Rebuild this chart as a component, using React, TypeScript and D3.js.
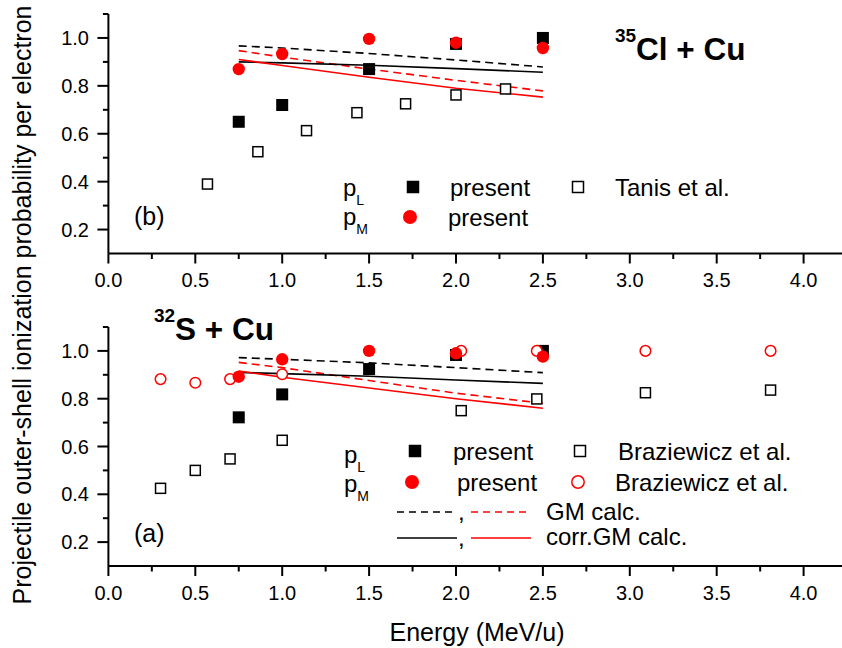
import React from "react";
import * as d3 from "d3";

// ---------- Data ----------
// Top panel (b): 35Cl + Cu
const clPresentE = [0.75, 1.0, 1.5, 2.0, 2.5];
const clPLPresent = [0.65, 0.72, 0.87, 0.975, 1.0];
const clPMPresent = [0.87, 0.933, 0.996, 0.98, 0.958];
const tanisE = [0.57, 0.86, 1.14, 1.43, 1.71, 2.0, 2.285];
const tanisPL = [0.39, 0.525, 0.613, 0.688, 0.725, 0.762, 0.787];
const calcE = [0.75, 1.0, 1.5, 2.0, 2.5];
const clGmPL = [0.967, 0.958, 0.935, 0.908, 0.879];
const clGmPM = [0.947, 0.92, 0.87, 0.823, 0.779];
const clCorrPL = [0.9, 0.896, 0.886, 0.872, 0.857];
const clCorrPM = [0.91, 0.885, 0.836, 0.79, 0.753];

// Bottom panel (a): 32S + Cu
const sPresentE = [0.75, 1.0, 1.5, 2.0, 2.5];
const sPLPresent = [0.722, 0.818, 0.924, 0.983, 1.0];
const sPMPresent = [0.892, 0.965, 1.0, 0.99, 0.976];
const brazE = [0.3, 0.5, 0.7, 1.0, 2.03, 2.465, 3.09, 3.81];
const brazPL = [0.425, 0.5, 0.548, 0.626, 0.75, 0.799, 0.825, 0.836];
const brazPM = [0.882, 0.867, 0.882, 0.902, 1.0, 1.0, 1.0, 1.0];
const sGmPL = [0.972, 0.965, 0.95, 0.93, 0.909];
const sGmPM = [0.952, 0.93, 0.876, 0.823, 0.781];
const sCorrPL = [0.91, 0.905, 0.894, 0.878, 0.864];
const sCorrPM = [0.916, 0.89, 0.845, 0.8, 0.76];

const xMajorTicks = [0, 0.5, 1.0, 1.5, 2.0, 2.5, 3.0, 3.5, 4.0];
const xMinorTicks = [0.25, 0.75, 1.25, 1.75, 2.25, 2.75, 3.25, 3.75];
const yMajorTicks = [0.2, 0.4, 0.6, 0.8, 1.0];
const yMinorTicks = [0.3, 0.5, 0.7, 0.9, 1.1];

const FONT = "'Liberation Sans', Arial, Helvetica, sans-serif";
const RED = "#ff0000";

const X0 = 108.4;
const xScale = d3.scaleLinear().domain([0, 4.22]).range([X0, X0 + 4.22 * 173.8]);

type Panel = {
  yScale: d3.ScaleLinear<number, number>;
  top: number;
  bottom: number;
};

function Axes({ p }: { p: Panel }) {
  const y = p.yScale;
  return (
    <g>
      <line x1={X0} x2={842} y1={p.bottom} y2={p.bottom} stroke="#000" strokeWidth={2} />
      <line x1={X0} x2={X0} y1={p.top} y2={p.bottom} stroke="#000" strokeWidth={2} />
      {xMajorTicks.map((t) => (
        <g key={"xM" + t}>
          <line x1={xScale(t)} x2={xScale(t)} y1={p.bottom} y2={p.bottom + 10} stroke="#000" strokeWidth={2} />
          <text x={xScale(t)} y={p.bottom + 33.5} textAnchor="middle" fontSize={20} fontFamily={FONT}>
            {t.toFixed(1)}
          </text>
        </g>
      ))}
      {xMinorTicks.map((t) => (
        <line key={"xm" + t} x1={xScale(t)} x2={xScale(t)} y1={p.bottom} y2={p.bottom + 5.5} stroke="#000" strokeWidth={2} />
      ))}
      {yMajorTicks.map((t) => (
        <g key={"yM" + t}>
          <line x1={X0 - 11} x2={X0} y1={y(t)} y2={y(t)} stroke="#000" strokeWidth={2} />
          <text x={89} y={y(t) + 7} textAnchor="end" fontSize={20} fontFamily={FONT}>
            {t.toFixed(1)}
          </text>
        </g>
      ))}
      {yMinorTicks.map((t) => (
        <line key={"ym" + t} x1={X0 - 5.5} x2={X0} y1={y(t)} y2={y(t)} stroke="#000" strokeWidth={2} />
      ))}
    </g>
  );
}

function CalcLines({ p, gmPL, gmPM, corrPL, corrPM }: { p: Panel; gmPL: number[]; gmPM: number[]; corrPL: number[]; corrPM: number[] }) {
  const line = d3
    .line<number>()
    .x((_, i) => xScale(calcE[i]))
    .y((v) => p.yScale(v));
  return (
    <g fill="none" strokeWidth={1.6}>
      <path d={line(gmPL) || ""} stroke="#000" strokeDasharray="8,5" />
      <path d={line(gmPM) || ""} stroke={RED} strokeDasharray="8,5" />
      <path d={line(corrPL) || ""} stroke="#000" />
      <path d={line(corrPM) || ""} stroke={RED} />
    </g>
  );
}

function FilledSquare({ x, y, s = 12 }: { x: number; y: number; s?: number }) {
  return <rect x={x - s / 2} y={y - s / 2} width={s} height={s} fill="#000" />;
}
function OpenSquare({ x, y, s = 10 }: { x: number; y: number; s?: number }) {
  return <rect x={x - s / 2} y={y - s / 2} width={s} height={s} fill="#fff" stroke="#000" strokeWidth={1.5} />;
}
function FilledCircle({ x, y, r = 6.2 }: { x: number; y: number; r?: number }) {
  return <circle cx={x} cy={y} r={r} fill={RED} />;
}
function OpenCircle({ x, y, r = 5.3 }: { x: number; y: number; r?: number }) {
  return <circle cx={x} cy={y} r={r} fill="#fff" stroke={RED} strokeWidth={1.5} />;
}

function PLabel({ x, y, sub }: { x: number; y: number; sub: string }) {
  return (
    <text x={x} y={y} fontSize={24} fontFamily={FONT}>
      p
      <tspan fontSize={14} dy={9}>
        {sub}
      </tspan>
    </text>
  );
}

export default function App() {
  const topP: Panel = {
    yScale: d3.scaleLinear().domain([0.1, 1.1]).range([253.5, 14]),
    top: 14,
    bottom: 253.5,
  };
  const botP: Panel = {
    yScale: d3.scaleLinear().domain([0.1, 1.1]).range([566, 327]),
    top: 327,
    bottom: 566,
  };

  const yt = topP.yScale;
  const yb = botP.yScale;

  return (
    <svg width={842} height={648} style={{ position: "absolute", left: 0, top: 0, background: "#fff" }}>
      <rect width={842} height={648} fill="#fff" />

      {/* ---------- Top panel ---------- */}
      <Axes p={topP} />
      <CalcLines p={topP} gmPL={clGmPL} gmPM={clGmPM} corrPL={clCorrPL} corrPM={clCorrPM} />
      {tanisE.map((e, i) => (
        <OpenSquare key={"tn" + i} x={xScale(e)} y={yt(tanisPL[i])} />
      ))}
      {clPresentE.map((e, i) => (
        <FilledSquare key={"cpl" + i} x={xScale(e)} y={yt(clPLPresent[i])} />
      ))}
      {clPresentE.map((e, i) => (
        <FilledCircle key={"cpm" + i} x={xScale(e)} y={yt(clPMPresent[i])} />
      ))}

      <text x={615} y={42} fontSize={19} fontWeight="bold" fontFamily={FONT}>35</text>
      <text x={636} y={60} fontSize={31.5} fontWeight="bold" fontFamily={FONT}>Cl + Cu</text>
      <text x={134} y={225} fontSize={25} fontFamily={FONT}>(b)</text>

      <PLabel x={343} y={196} sub="L" />
      <PLabel x={343} y={225} sub="M" />
      <FilledSquare x={413} y={187} s={12.5} />
      <text x={450} y={196} fontSize={24} fontFamily={FONT}>present</text>
      <OpenSquare x={578} y={187} s={11} />
      <text x={615} y={196} fontSize={24} fontFamily={FONT}>Tanis et al.</text>
      <FilledCircle x={410} y={217} r={7} />
      <text x={448} y={226} fontSize={24} fontFamily={FONT}>present</text>

      {/* ---------- Bottom panel ---------- */}
      <Axes p={botP} />
      <CalcLines p={botP} gmPL={sGmPL} gmPM={sGmPM} corrPL={sCorrPL} corrPM={sCorrPM} />
      {brazE.map((e, i) => (
        <OpenSquare key={"bpl" + i} x={xScale(e)} y={yb(brazPL[i])} />
      ))}
      {sPresentE.map((e, i) => (
        <FilledSquare key={"spl" + i} x={xScale(e)} y={yb(sPLPresent[i])} />
      ))}
      {brazE.map((e, i) => (
        <OpenCircle key={"bpm" + i} x={xScale(e)} y={yb(brazPM[i])} />
      ))}
      {sPresentE.map((e, i) => (
        <FilledCircle key={"spm" + i} x={xScale(e)} y={yb(sPMPresent[i])} />
      ))}

      <text x={154} y={322} fontSize={19} fontWeight="bold" fontFamily={FONT}>32</text>
      <text x={175} y={340} fontSize={31.5} fontWeight="bold" fontFamily={FONT}>S + Cu</text>
      <text x={134} y={542} fontSize={25} fontFamily={FONT}>(a)</text>

      <PLabel x={344} y={463} sub="L" />
      <PLabel x={344} y={492} sub="M" />
      <FilledSquare x={415} y={451} s={12.5} />
      <text x={453} y={460} fontSize={24} fontFamily={FONT}>present</text>
      <OpenSquare x={580} y={451} s={11} />
      <text x={618} y={460} fontSize={24} fontFamily={FONT}>Braziewicz et al.</text>
      <FilledCircle x={412} y={482} r={7} />
      <text x={457} y={491} fontSize={24} fontFamily={FONT}>present</text>
      <OpenCircle x={578} y={482} r={6.2} />
      <text x={615} y={491} fontSize={24} fontFamily={FONT}>Braziewicz et al.</text>

      <line x1={397} x2={457} y1={512} y2={512} stroke="#000" strokeWidth={1.6} strokeDasharray="7,5" />
      <text x={458} y={520} fontSize={24} fontFamily={FONT}>,</text>
      <line x1={471} x2={531} y1={512} y2={512} stroke={RED} strokeWidth={1.6} strokeDasharray="7,5" />
      <text x={546} y={520} fontSize={24} fontFamily={FONT}>GM calc.</text>
      <line x1={397} x2={457} y1={538} y2={538} stroke="#000" strokeWidth={1.6} />
      <text x={458} y={546} fontSize={24} fontFamily={FONT}>,</text>
      <line x1={471} x2={531} y1={538} y2={538} stroke={RED} strokeWidth={1.6} />
      <text x={546} y={545} fontSize={24} fontFamily={FONT}>corr.GM calc.</text>

      {/* ---------- Axis titles ---------- */}
      <text x={477} y={641} textAnchor="middle" fontSize={25} fontFamily={FONT}>Energy (MeV/u)</text>
      <text
        transform="translate(31,305) rotate(-90)"
        textAnchor="middle"
        fontSize={25}
        fontFamily={FONT}
      >
        Projectile outer-shell ionization probability per electron
      </text>
    </svg>
  );
}
